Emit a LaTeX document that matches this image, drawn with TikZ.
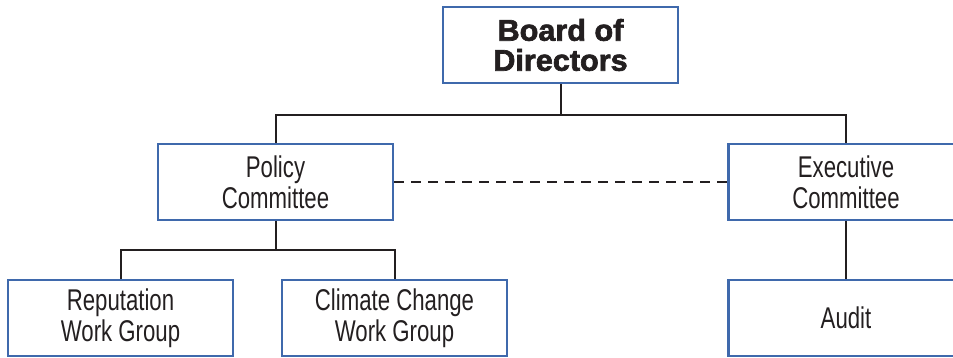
\documentclass[tikz,border=0pt]{standalone}
\usepackage{fontspec}
\newfontfamily\condfont[FakeStretch=0.74]{Liberation Sans}
\newfontfamily\heavyfont[FakeStretch=1.02,FakeBold=2.2]{Liberation Sans Bold}
\definecolor{boxblue}{HTML}{3F69AC}
\definecolor{inkgray}{HTML}{231F20}
\tikzset{
	unit/.style={draw=boxblue, line width=1.2pt, align=center, text=inkgray,
		font=\condfont\fontsize{15}{15.5}\selectfont,
		minimum width=117.5pt, minimum height=38pt, inner sep=0pt},
	small unit/.style={unit, minimum width=112.5pt},
	link/.style={draw=inkgray, line width=1pt}
}
\begin{document}
\begin{tikzpicture}[x=0.5pt, y=-0.5pt]
			\useasboundingbox (0,0) rectangle (953,358);
			\node[unit, font=\heavyfont\fontsize{15}{15}\selectfont] (board) at (560.5,45) {Board of\\Directors};
			\node[unit] (policy) at (275.5,182) {Policy\\Committee};
			\node[unit] (exec) at (846,182) {Executive\\Committee};
			\node[small unit] (rep) at (120.5,318) {Reputation\\Work Group};
			\node[small unit] (climate) at (394.5,318) {Climate Change\\Work Group};
			\node[unit] (audit) at (846,318) {Audit};
			
			\coordinate (top) at (560.5,115);
			\coordinate (mid) at (275.5,250);
			
			\draw[link] (board) -- (top);
			\draw[link] (policy) |- (top) -| (exec);
			\draw[link] (policy) -- (mid);
			\draw[link] (rep) |- (mid) -| (climate);
			\draw[link] (exec) -- (audit);
			\draw[link, dash pattern=on 5pt off 3.5pt] (policy) -- (exec);
			
		\end{tikzpicture}
\end{document}
